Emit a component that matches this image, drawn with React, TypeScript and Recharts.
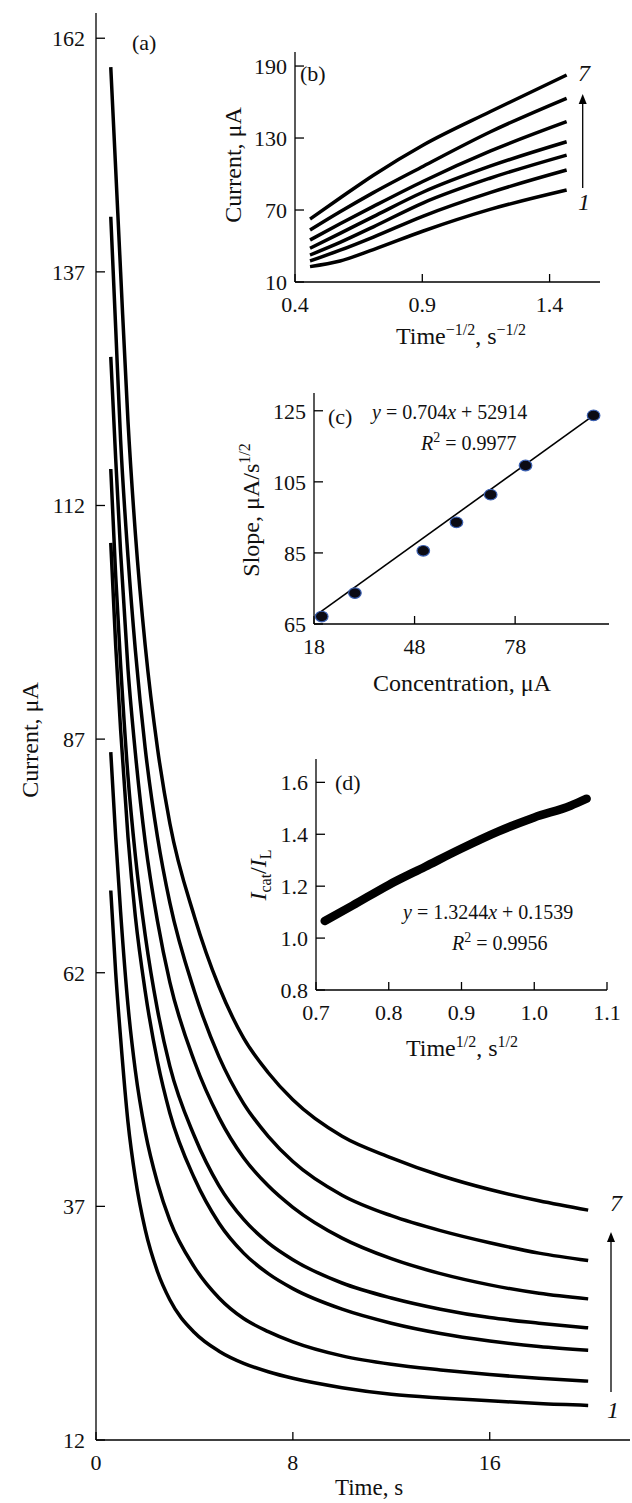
import React from "react";
import { LineChart, Line, XAxis, YAxis, ComposedChart, Scatter } from "recharts";

const FONT = "'Liberation Serif', 'DejaVu Serif', serif";
const INK = "#111";

// (a) current transients, curves 1..7
const timeA = [0.6, 0.8, 1, 1.3, 1.6, 2, 2.5, 3, 4, 5, 6, 7, 8, 10, 12, 14, 16, 18, 20];
const curveA1 = [70.8, 62, 55, 46, 40, 34.5, 30, 27, 23.5, 21.5, 20.2, 19.3, 18.6, 17.6, 16.9, 16.5, 16.2, 15.9, 15.7];
const curveA2 = [85.6, 76.5, 68.5, 58.5, 51.5, 45, 39.5, 35.5, 30.5, 27.2, 25, 23.6, 22.5, 21, 20.1, 19.5, 19, 18.6, 18.3];
const curveA3 = [108, 97, 88, 76.5, 68, 60, 52.5, 47, 40, 35.2, 32, 29.8, 28.2, 26, 24.5, 23.4, 22.6, 22, 21.6];
const curveA4 = [115.9, 104.5, 95, 83, 74.5, 66, 58, 52, 44.5, 39.2, 35.6, 33.1, 31.3, 28.8, 27.2, 26, 25.1, 24.5, 24];
const curveA5 = [127.9, 117, 107, 94.5, 85.5, 76, 67.5, 61, 52.5, 46.5, 42.2, 39.2, 36.9, 33.6, 31.4, 29.8, 28.6, 27.7, 27.1];
const curveA6 = [142.9, 131, 119, 106.5, 96.5, 86, 76.5, 69.5, 60, 53, 48, 44.5, 41.8, 38.2, 36, 34.4, 33.1, 32, 31.2];
const curveA7 = [158.9, 148, 137, 121, 109, 97, 86, 78, 68, 60.5, 55, 51.3, 48.4, 44.5, 42.2, 40.3, 38.8, 37.6, 36.6];
const ticksAX = [0, 8, 16];
const ticksAY = [12, 37, 62, 87, 112, 137, 162];

// (b) current vs time^-1/2
const xB = [0.459, 0.577, 0.708, 0.904, 1.166, 1.467];
const curveB1 = [22.8, 27.5, 37, 52.5, 70.5, 86.7];
const curveB2 = [27.5, 36.5, 47.5, 65, 84.5, 103.3];
const curveB3 = [32.5, 43, 56, 76, 96.5, 115.8];
const curveB4 = [38.1, 50.5, 64.5, 85, 106.5, 126.9];
const curveB5 = [45, 58.5, 73, 94, 119, 143.6];
const curveB6 = [53.3, 68.5, 84.5, 106.5, 135, 163.1];
const curveB7 = [62.5, 80, 99, 124.2, 151.9, 182.5];
const ticksBX = [0.4, 0.9, 1.4];
const ticksBY = [10, 70, 130, 190];

// (c) slope vs concentration
const concC = [20.3, 30.2, 50.6, 60.5, 70.7, 81.1, 101.4];
const slopeC = [67.1, 73.7, 85.6, 93.6, 101.4, 109.6, 123.7];
const fitCX = [18.3, 101.4];
const fitCY = [67.3, 123.7];
const ticksCX = [18, 48, 78];
const ticksCY = [65, 85, 105, 125];

// (d) Icat/IL vs time^1/2
const xD = [0.712, 0.75, 0.8, 0.85, 0.9, 0.95, 1.0, 1.05, 1.072];
const ratioD = [1.066, 1.125, 1.205, 1.275, 1.345, 1.41, 1.465, 1.51, 1.537];
const ticksDX = [0.7, 0.8, 0.9, 1.0, 1.1];
const ticksDY = [0.8, 1.0, 1.2, 1.4, 1.6];

const keys = ["c1", "c2", "c3", "c4", "c5", "c6", "c7"];

const axisLine = { stroke: "#000", strokeWidth: 1.3 };
const tickLine = { stroke: "#000", strokeWidth: 1.3 };
const tickFont = { fill: INK, fontSize: 22, fontFamily: FONT };

function Arrow({ x, y1, y2 }: { x: number; y1: number; y2: number }) {
  return (
    <g>
      <line x1={x} y1={y1} x2={x} y2={y2 + 8} stroke="#000" strokeWidth={1.3} />
      <polygon points={`${x},${y2} ${x - 4},${y2 + 10} ${x + 4},${y2 + 10}`} fill="#000" />
    </g>
  );
}

export default function App() {
  const curvesA = [curveA1, curveA2, curveA3, curveA4, curveA5, curveA6, curveA7];
  const mainData = timeA.map((t, i) => {
    const row: Record<string, number> = { t };
    keys.forEach((k, j) => (row[k] = curvesA[j][i]));
    return row;
  });
  const curvesB = [curveB1, curveB2, curveB3, curveB4, curveB5, curveB6, curveB7];
  const bData = xB.map((x, i) => {
    const row: Record<string, number> = { x };
    keys.forEach((k, j) => (row[k] = curvesB[j][i]));
    return row;
  });
  const cPoints = concC.map((x, i) => ({ x, y: slopeC[i] }));
  const cFit = fitCX.map((x, i) => ({ x, y: fitCY[i] }));
  const dData = xD.map((x, i) => ({ x, y: ratioD[i] }));
  const fmt1 = (v: number) => v.toFixed(1);

  const layer: React.CSSProperties = { position: "absolute", left: 0, top: 0, pointerEvents: "none" };

  return (
    <div style={{ position: "absolute", left: 0, top: 0, width: 632, height: 1503, background: "#fff", overflow: "hidden" }}>
      {/* (a) main chart */}
      <div style={layer}>
        <LineChart width={632} height={1503} data={mainData} margin={{ top: 13, right: 2, bottom: 0, left: 0 }}>
          <XAxis type="number" dataKey="t" domain={[0, 21.7]} ticks={ticksAX} interval={0} height={63}
            axisLine={axisLine} tickLine={tickLine} tickSize={-8} tickMargin={22} tick={tickFont} />
          <YAxis type="number" domain={[12, 164.7]} ticks={ticksAY} interval={0} width={96}
            axisLine={axisLine} tickLine={tickLine} tickSize={-9} tickMargin={20} tick={tickFont} />
          {keys.map((k) => (
            <Line key={k} dataKey={k} type="monotone" stroke="#000" strokeWidth={3.5} dot={false} isAnimationActive={false} />
          ))}
        </LineChart>
      </div>

      {/* (b) inset */}
      <div style={layer}>
        <LineChart width={632} height={345} data={bData} margin={{ top: 52, right: 32, bottom: 0, left: 0 }}>
          <XAxis type="number" dataKey="x" domain={[0.4, 1.598]} ticks={ticksBX} interval={0} height={63}
            axisLine={axisLine} tickLine={tickLine} tickSize={-8} tickMargin={22} tick={tickFont} tickFormatter={fmt1} />
          <YAxis type="number" domain={[10, 201.7]} ticks={ticksBY} interval={0} width={295}
            axisLine={axisLine} tickLine={tickLine} tickSize={-9} tickMargin={17} tick={tickFont} />
          {keys.map((k) => (
            <Line key={k} dataKey={k} type="monotone" stroke="#000" strokeWidth={3.5} dot={false} isAnimationActive={false} />
          ))}
        </LineChart>
      </div>

      {/* (c) inset */}
      <div style={layer}>
        <ComposedChart width={632} height={690} margin={{ top: 393, right: 23, bottom: 0, left: 0 }}>
          <XAxis type="number" dataKey="x" domain={[18, 106]} ticks={ticksCX} interval={0} height={66}
            axisLine={axisLine} tickLine={tickLine} tickSize={-8} tickMargin={22} tick={tickFont} />
          <YAxis type="number" dataKey="y" domain={[65, 130]} ticks={ticksCY} interval={0} width={314}
            axisLine={axisLine} tickLine={tickLine} tickSize={-9} tickMargin={17} tick={tickFont} />
          <Line data={cFit} dataKey="y" type="linear" stroke="#000" strokeWidth={1.6} dot={false} isAnimationActive={false} />
          <Scatter data={cPoints} dataKey="y" isAnimationActive={false}
            shape={(p: any) => <ellipse cx={p.cx} cy={p.cy} rx={6.3} ry={5.3} fill="#0b0b14" stroke="#3a5fb0" strokeWidth={1.2} />} />
        </ComposedChart>
      </div>

      {/* (d) inset */}
      <div style={layer}>
        <LineChart width={632} height={1050} data={dData} margin={{ top: 759, right: 25, bottom: 0, left: 0 }}>
          <XAxis type="number" dataKey="x" domain={[0.7, 1.1]} ticks={ticksDX} interval={0} height={60}
            axisLine={axisLine} tickLine={tickLine} tickSize={-8} tickMargin={22} tick={tickFont} tickFormatter={fmt1} />
          <YAxis type="number" domain={[0.8, 1.69]} ticks={ticksDY} interval={0} width={316}
            axisLine={axisLine} tickLine={tickLine} tickSize={-9} tickMargin={17} tick={tickFont} tickFormatter={fmt1} />
          <Line dataKey="y" type="monotone" stroke="#000" strokeWidth={8.5} strokeLinecap="round" dot={false} isAnimationActive={false} />
        </LineChart>
      </div>

      {/* labels and annotations */}
      <svg width={632} height={1503} style={layer} fontFamily={FONT} fill={INK}>
        {/* (a) */}
        <text x={132} y={50} fontSize={22}>(a)</text>
        <g transform="translate(30,740) rotate(-90)">
          <text x={0} y={8} fontSize={24} textAnchor="middle">Current, μA</text>
        </g>
        <text x={369} y={1495} fontSize={23} textAnchor="middle">Time, s</text>
        <text x={616} y={1211} fontSize={24} fontStyle="italic" textAnchor="middle">7</text>
        <text x={613} y={1418} fontSize={24} fontStyle="italic" textAnchor="middle">1</text>
        <Arrow x={611} y1={1392} y2={1232} />

        {/* (b) */}
        <text x={300} y={81} fontSize={22}>(b)</text>
        <text x={584} y={81} fontSize={24} fontStyle="italic" textAnchor="middle">7</text>
        <text x={584} y={210} fontSize={24} fontStyle="italic" textAnchor="middle">1</text>
        <Arrow x={582.7} y1={188} y2={94} />
        <g transform="translate(233,165) rotate(-90)">
          <text x={0} y={8} fontSize={24} textAnchor="middle">Current, μA</text>
        </g>
        <text x={461} y={344} fontSize={24} textAnchor="middle">
          Time<tspan dy={-9} fontSize={16}>−1/2</tspan><tspan dy={9}>, s</tspan><tspan dy={-9} fontSize={16}>−1/2</tspan>
        </text>

        {/* (c) */}
        <text x={328} y={424} fontSize={22}>(c)</text>
        <text x={372} y={419} fontSize={20}>
          <tspan fontStyle="italic">y</tspan> = 0.704<tspan fontStyle="italic">x</tspan> + 52914
        </text>
        <text x={421} y={450} fontSize={20}>
          <tspan fontStyle="italic">R</tspan><tspan dy={-8} fontSize={14}>2</tspan><tspan dy={8}> = 0.9977</tspan>
        </text>
        <g transform="translate(251,510) rotate(-90)">
          <text x={0} y={8} fontSize={24} textAnchor="middle">
            Slope, μA/s<tspan dy={-9} fontSize={16}>1/2</tspan>
          </text>
        </g>
        <text x={462} y={691} fontSize={24} textAnchor="middle">Concentration, μA</text>

        {/* (d) */}
        <text x={335} y={790} fontSize={22}>(d)</text>
        <text x={403} y={919} fontSize={20}>
          <tspan fontStyle="italic">y</tspan> = 1.3244<tspan fontStyle="italic">x</tspan> + 0.1539
        </text>
        <text x={452} y={950} fontSize={20}>
          <tspan fontStyle="italic">R</tspan><tspan dy={-8} fontSize={14}>2</tspan><tspan dy={8}> = 0.9956</tspan>
        </text>
        <g transform="translate(258,875) rotate(-90)">
          <text x={0} y={8} fontSize={24} textAnchor="middle">
            <tspan fontStyle="italic">I</tspan><tspan dy={5} fontSize={16}>cat</tspan><tspan dy={-5}>/</tspan><tspan fontStyle="italic">I</tspan><tspan dy={5} fontSize={16}>L</tspan>
          </text>
        </g>
        <text x={462} y={1056} fontSize={24} textAnchor="middle">
          Time<tspan dy={-9} fontSize={16}>1/2</tspan><tspan dy={9}>, s</tspan><tspan dy={-9} fontSize={16}>1/2</tspan>
        </text>
      </svg>
    </div>
  );
}
